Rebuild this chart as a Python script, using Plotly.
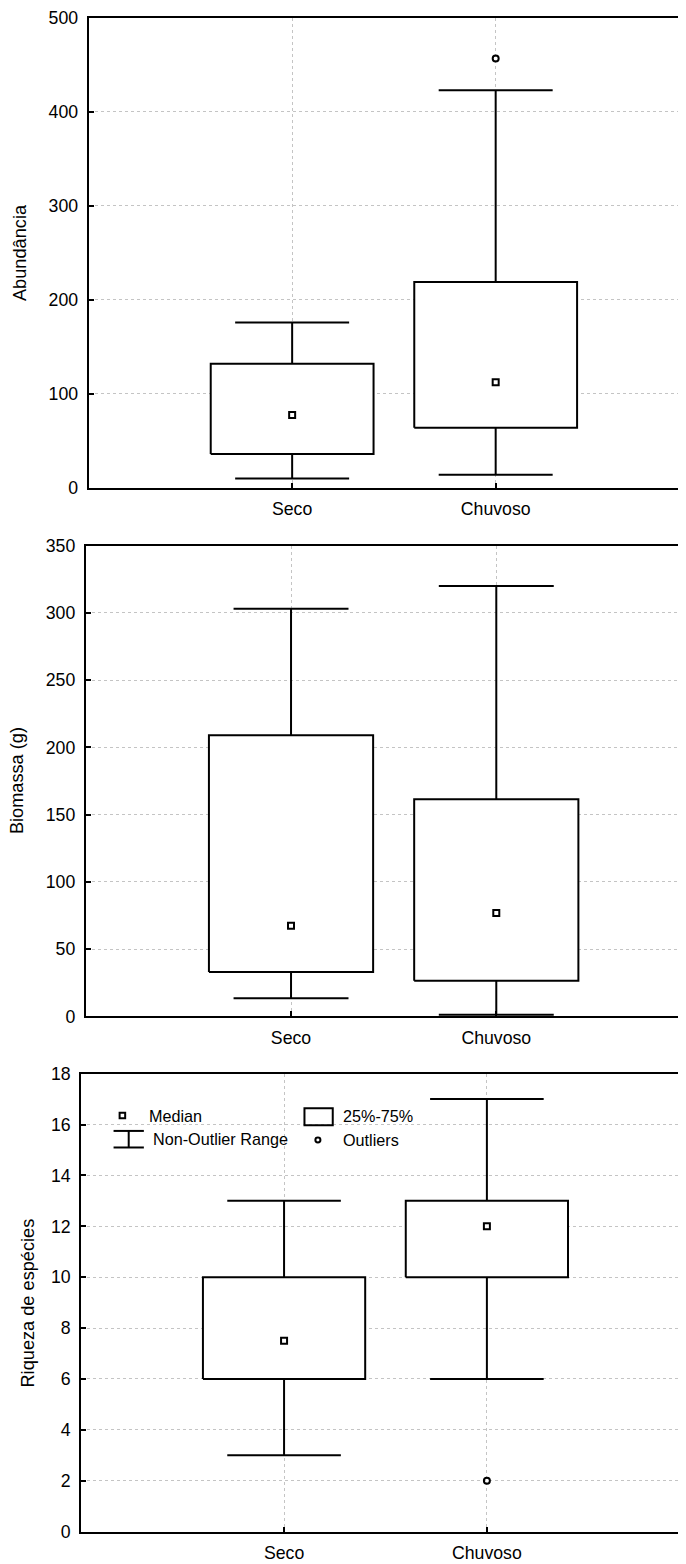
import plotly.graph_objects as go

# ---------------- data ----------------
categories = ["Seco", "Chuvoso"]
cat_pos = [1, 2]

# Abundância
abund_lower = [10, 14]
abund_q1 = [36, 64]
abund_median = [77.5, 112.5]
abund_q3 = [132, 219]
abund_upper = [176, 423]
abund_outliers_x = [2]
abund_outliers_y = [457]

# Biomassa (g)
bio_lower = [13.5, 1.2]
bio_q1 = [33, 26.5]
bio_median = [67.5, 77]
bio_q3 = [209, 161.5]
bio_upper = [303, 320]
bio_outliers_x = []
bio_outliers_y = []

# Riqueza de espécies
riq_lower = [3, 6]
riq_q1 = [6, 10]
riq_median = [7.5, 12]
riq_q3 = [10, 13]
riq_upper = [13, 17]
riq_outliers_x = [2]
riq_outliers_y = [2]

y_titles = ["Abundância", "Biomassa (g)", "Riqueza de espécies"]
y_ticks = [list(range(0, 501, 100)), list(range(0, 351, 50)), list(range(0, 19, 2))]
y_ranges = [[0, 500], [0, 350], [0, 18]]

legend_labels = ["Median", "25%-75%", "Non-Outlier Range", "Outliers"]

# ---------------- layout constants ----------------
W, H = 686, 1564
FONT = "Liberation Sans, Arial, sans-serif"
# observed page placement: shown = offset + scale * figure pixel
OX, OY, SC, SCY = 10.5, 16.2, 0.99, 0.9895
RIGHT_EDGE = OX + SC * W  # where paper's right edge lands

panels_px = [
    dict(left=90.3, right=None, top=15.7, bottom=487.2, unit=201.5, title_x=21.7),
    dict(left=87.5, right=None, top=545.0, bottom=1017.0, unit=203.2, title_x=19.5),
    dict(left=83.0, right=684.0, top=1074.3, bottom=1533.3, unit=200.8, title_x=30.2),
]
BOX_HALF = 0.4
CAP_HALF = 0.28


def px(x):
    v = ((x - OX) / SC) / W
    return min(max(v, 0.0), 1.0)


def py(y):
    v = 1 - ((y - OY) / SCY) / H
    return min(max(v, 0.0), 1.0)


fig = go.Figure()

datasets = [
    (abund_lower, abund_q1, abund_median, abund_q3, abund_upper, abund_outliers_x, abund_outliers_y),
    (bio_lower, bio_q1, bio_median, bio_q3, bio_upper, bio_outliers_x, bio_outliers_y),
    (riq_lower, riq_q1, riq_median, riq_q3, riq_upper, riq_outliers_x, riq_outliers_y),
]

for i, (lo, q1, med, q3, up, ox, oy) in enumerate(datasets):
    xa = "x" if i == 0 else f"x{i+1}"
    ya = "y" if i == 0 else f"y{i+1}"
    for c, a, b in zip(cat_pos, q1, q3):
        fig.add_trace(go.Scatter(
            x=[c - BOX_HALF, c + BOX_HALF, c + BOX_HALF, c - BOX_HALF, c - BOX_HALF],
            y=[a, a, b, b, a], mode="lines", fill="toself", fillcolor="white",
            line=dict(color="black", width=2), xaxis=xa, yaxis=ya,
            showlegend=False, hoverinfo="skip"))
    wx, wy = [], []
    for c, l, a, b, u in zip(cat_pos, lo, q1, q3, up):
        wx += [c, c, None, c, c, None,
               c - CAP_HALF, c + CAP_HALF, None, c - CAP_HALF, c + CAP_HALF, None]
        wy += [b, u, None, a, l, None, u, u, None, l, l, None]
    fig.add_trace(go.Scatter(x=wx, y=wy, mode="lines",
                             line=dict(color="black", width=2), xaxis=xa, yaxis=ya,
                             showlegend=False, hoverinfo="skip"))
    fig.add_trace(go.Scatter(x=cat_pos, y=med, mode="markers",
                             marker=dict(symbol="square-open", size=6, color="black",
                                         line=dict(width=2, color="black")),
                             xaxis=xa, yaxis=ya, showlegend=False))
    if ox:
        fig.add_trace(go.Scatter(x=ox, y=oy, mode="markers",
                                 marker=dict(symbol="circle-open", size=6, color="black",
                                             line=dict(width=2, color="black")),
                                 xaxis=xa, yaxis=ya, showlegend=False))

axis_common = dict(
    showline=True, linecolor="black", linewidth=2,
    ticks="inside", ticklen=5, tickwidth=1.5, tickcolor="black",
    showgrid=True, gridcolor="#c4c4c4", gridwidth=1, griddash="dot",
    zeroline=False,
    tickfont=dict(family=FONT, size=17.7, color="black"),
)

layout = dict(
    width=W, height=H, margin=dict(l=0, r=0, t=0, b=0),
    paper_bgcolor="white", plot_bgcolor="white", showlegend=False,
    font=dict(family=FONT, color="black"),
)

annotations = []
shapes = []
for i, p in enumerate(panels_px):
    sfx = "" if i == 0 else str(i + 1)
    right = p["right"] if p["right"] is not None else RIGHT_EDGE
    xmax = (right - p["left"]) / p["unit"]
    xaxis = dict(axis_common)
    xaxis.update(domain=[px(p["left"]), px(right)], range=[0, xmax],
                 tickvals=cat_pos, ticktext=categories, mirror=True,
                 anchor="y" + sfx, ticklabelstandoff=4)
    yaxis = dict(axis_common)
    yaxis.update(domain=[py(p["bottom"]), py(p["top"])], range=y_ranges[i],
                 tickvals=y_ticks[i], anchor="x" + sfx,
                 mirror=("allticks" if i == 2 else False), ticklabelstandoff=5)
    layout["xaxis" + sfx] = xaxis
    layout["yaxis" + sfx] = yaxis
    annotations.append(dict(
        text=y_titles[i], xref="paper", yref="paper",
        x=px(p["title_x"]), y=py((p["top"] + p["bottom"]) / 2),
        textangle=-90, showarrow=False, xanchor="center", yanchor="middle",
        font=dict(family=FONT, size=18.2, color="black")))

# legend (panel 3)
LEG_FONT = dict(family=FONT, size=16.2, color="black")
shapes.append(dict(type="rect", xref="paper", yref="paper",
                   x0=px(121), x1=px(126.5), y0=py(1119), y1=py(1113.5),
                   line=dict(color="black", width=2)))
annotations.append(dict(text=legend_labels[0], xref="paper", yref="paper",
                        x=px(148), y=py(1116.5), xanchor="left", yanchor="middle",
                        showarrow=False, font=LEG_FONT))
shapes.append(dict(type="rect", xref="paper", yref="paper",
                   x0=px(304), x1=px(332), y0=py(1126), y1=py(1109),
                   line=dict(color="black", width=2)))
annotations.append(dict(text=legend_labels[1], xref="paper", yref="paper",
                        x=px(340.5), y=py(1117), xanchor="left", yanchor="middle",
                        showarrow=False, font=LEG_FONT))
for (x0, y0, x1, y1) in [(115, 1131.7, 145, 1131.7), (115, 1148.3, 145, 1148.3),
                         (130, 1131.7, 130, 1148.3)]:
    shapes.append(dict(type="line", xref="paper", yref="paper",
                       x0=px(x0), x1=px(x1), y0=py(y0), y1=py(y1),
                       line=dict(color="black", width=2)))
annotations.append(dict(text=legend_labels[2], xref="paper", yref="paper",
                        x=px(152.5), y=py(1140), xanchor="left", yanchor="middle",
                        showarrow=False, font=LEG_FONT))
shapes.append(dict(type="circle", xref="paper", yref="paper",
                   x0=px(314.8), x1=px(319.8), y0=py(1143.2), y1=py(1138.2),
                   line=dict(color="black", width=2)))
annotations.append(dict(text=legend_labels[3], xref="paper", yref="paper",
                        x=px(340.5), y=py(1140.5), xanchor="left", yanchor="middle",
                        showarrow=False, font=LEG_FONT))

layout["annotations"] = annotations
layout["shapes"] = shapes
fig.update_layout(**layout)

fig.write_html("out.html")
